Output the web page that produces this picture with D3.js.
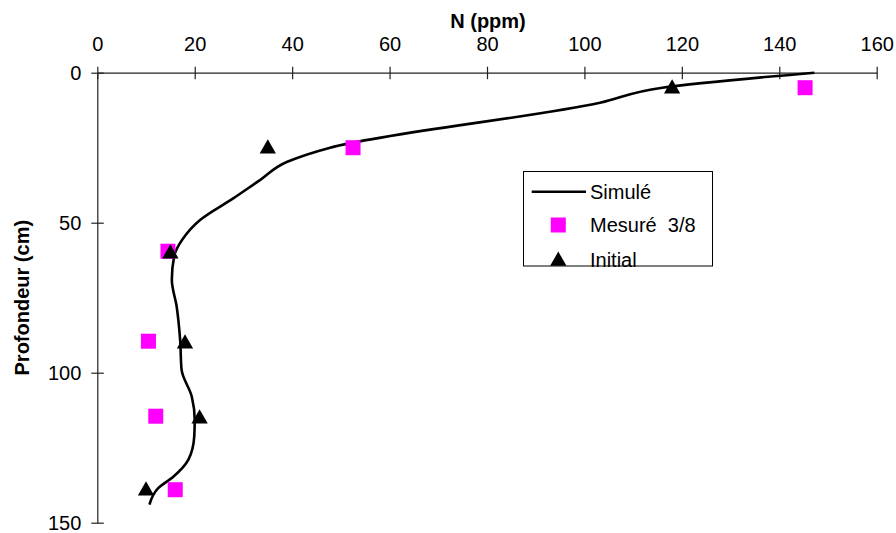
<!DOCTYPE html>
<html><head><meta charset="utf-8">
<script src="https://cdn.jsdelivr.net/npm/d3@7"></script>
<style>body{margin:0;background:#fff;} svg{display:block;font-family:"Liberation Sans",Arial,sans-serif;}</style>
</head><body>
<svg id="c" width="896" height="533"></svg>
<script>
const xTicks = [0,20,40,60,80,100,120,140,160];
const yTicks = [0,50,100,150];
// Simulated profile: [N ppm, depth cm]
const simN     = [147.2,116,103.2,47.8,39,33.4,27.9,21.1,17.5,15.8,15.3,16.3,17,17.3,19.4,20,19.9,18.7,15.6,12.5,10.7];
const simDepth = [0,5,10,25,29.7,35.8,41.9,49.1,55.5,61,69,78,89,99,108,115.8,121.3,129,134.7,138.5,144];
// Measured 3/8
const mesN     = [145.3,52.5,14.5,10.5,12,16];
const mesDepth = [5,25,59.5,89.5,114.5,139];
// Initial
const iniN     = [118,35,15,18,21,10];
const iniDepth = [5,25,60,90,115,139];
const legendLabels = ["Simulé","Mesuré  3/8","Initial"];

const FS = 20;
const svg = d3.select("#c");
const x = d3.scaleLinear().domain([0,160]).range([97.3,876.7]);
const y = d3.scaleLinear().domain([0,150]).range([72.7,522.7]);

// x axis (top)
const gx = svg.append("g").attr("transform",`translate(0,${y(0)})`)
  .call(d3.axisTop(x).tickValues(xTicks).tickSize(6).tickSizeOuter(0).tickPadding(16));
gx.selectAll(".tick line").attr("y1",6.5).attr("y2",-6);
// y axis (left)
const gy = svg.append("g").attr("transform",`translate(${x(0)},0)`)
  .call(d3.axisLeft(y).tickValues(yTicks).tickSize(6).tickSizeOuter(0).tickPadding(10));
gy.selectAll(".tick line").attr("x1",6.5).attr("x2",-6);
[gx,gy].forEach(g=>{
  g.select(".domain").attr("stroke","#222").attr("stroke-width",1.2);
  g.selectAll(".tick line").attr("stroke","#222").attr("stroke-width",1.2);
  g.selectAll(".tick text").attr("font-size",FS).attr("fill","#000")
   .attr("font-family","'Liberation Sans',Arial,sans-serif");
});

// axis titles
svg.append("text").attr("x",488).attr("y",28).attr("text-anchor","middle")
  .attr("font-size",FS).attr("font-weight","bold").text("N (ppm)");
svg.append("text").attr("transform",`translate(29,${(y(0)+y(150))/2}) rotate(-90)`)
  .attr("text-anchor","middle").attr("font-size",FS).attr("font-weight","bold").text("Profondeur (cm)");

// simulated line
const simData = simN.map((v,i)=>[v,simDepth[i]]);
svg.append("path").datum(simData)
  .attr("d", d3.line().x(d=>x(d[0])).y(d=>y(d[1])).curve(d3.curveMonotoneY))
  .attr("fill","none").attr("stroke","#000").attr("stroke-width",2.6);

// measured squares
const sq = 15;
svg.selectAll("rect.mes").data(mesN.map((v,i)=>[v,mesDepth[i]])).enter()
  .append("rect").attr("class","mes")
  .attr("x",d=>x(d[0])-sq/2).attr("y",d=>y(d[1])-sq/2)
  .attr("width",sq).attr("height",sq).attr("fill","#ff00ff");

// initial triangles
const tri = d3.symbol().type(d3.symbolTriangle).size(115);
svg.selectAll("path.ini").data(iniN.map((v,i)=>[v,iniDepth[i]])).enter()
  .append("path").attr("class","ini").attr("d",tri)
  .attr("transform",d=>`translate(${x(d[0])},${y(d[1])+1})`).attr("fill","#000");

// legend
const lg = svg.append("g");
lg.append("rect").attr("x",523.5).attr("y",171.5).attr("width",189).attr("height",94.5)
  .attr("fill","#fff").attr("stroke","#000").attr("stroke-width",1);
lg.append("line").attr("x1",531.7).attr("x2",586).attr("y1",191.7).attr("y2",191.7)
  .attr("stroke","#000").attr("stroke-width",2.6);
lg.append("rect").attr("x",558.3-sq/2).attr("y",225-sq/2).attr("width",sq).attr("height",sq).attr("fill","#ff00ff");
lg.append("path").attr("d",tri).attr("transform","translate(558.3,261)").attr("fill","#000");
[191.7,225,260].forEach((ty,i)=>{
  lg.append("text").attr("x",590).attr("y",ty).attr("dy","0.36em")
    .attr("font-size",FS).text(legendLabels[i]).style("white-space","pre");
});
</script>
</body></html>
